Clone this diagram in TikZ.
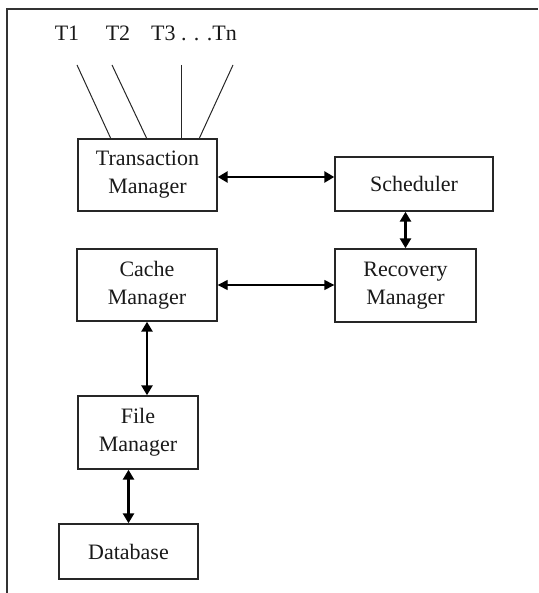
\documentclass[tikz,border=0pt]{standalone}
\usepackage{fontspec}
\setmainfont{Liberation Serif}
\usetikzlibrary{arrows.meta}
\begin{document}
\begin{tikzpicture}[x=1pt,y=-1pt,
  box/.style={draw=black!85,line width=1.4pt,align=center,inner sep=0pt,
    font=\fontsize{22}{28}\selectfont,text=black!90},
  lbl/.style={font=\fontsize{22}{28}\selectfont,text=black!90,inner sep=0pt},
  thick arrow/.style={line width=2.6pt,{Triangle[length=10pt,width=11pt]}-{Triangle[length=10pt,width=11pt]}},
  thin arrow/.style={line width=1.4pt,{Triangle[length=10pt,width=10pt]}-{Triangle[length=10pt,width=10pt]}},
  tline/.style={line width=1pt,draw=black!85}]
\useasboundingbox (0,0) rectangle (538,593);
% frame
\draw[line width=2pt,black!80] (7,593) -- (7,9) -- (538,9);
% boxes
\node[box,minimum width=139pt,minimum height=72pt] (tm) at (147.5,175) {Transaction\\Manager};
\node[box,minimum width=158pt,minimum height=54pt] (sch) at (414,184) {Scheduler};
\node[box,minimum width=141pt,minimum height=73pt] (rm) at (405.5,285.5) {Recovery\\Manager};
\node[box,minimum width=140pt,minimum height=72pt] (cm) at (147,285) {Cache\\Manager};
\node[box,minimum width=120pt,minimum height=73pt] (fm) at (138,432.5) {File\\Manager};
\node[box,minimum width=139pt,minimum height=55pt] (db) at (128.5,551.5) {Database};
% transaction labels
\node[lbl] (t1) at (67,33) {T1};
\node[lbl] (t2) at (118,33) {T2};
\node[lbl] (t3) at (194,33) {T3 . . .Tn};
\coordinate (a1) at (77,65);
\coordinate (a2) at (112,65);
\coordinate (a3) at (181,65);
\coordinate (a4) at (233,65);
\coordinate (b1) at (111,139);
\coordinate (b2) at (147,139);
\coordinate (b3) at (181,139);
\coordinate (b4) at (199,139);
\draw[tline] (a1) -- (b1);
\draw[tline] (a2) -- (b2);
\draw[tline] (a3) -- (b3);
\draw[tline] (a4) -- (b4);
% connectors
\draw[thick arrow] (tm.east |- 0,177) -- (sch.west |- 0,177);
\draw[thick arrow] (rm.north |- sch.south) -- (rm.north);
\draw[thin arrow] (cm.east) -- (cm.east -| rm.west);
\draw[thick arrow] (cm.south) -- (cm.south |- fm.north);
\draw[thick arrow] (db.north |- fm.south) -- (db.north);
\end{tikzpicture}
\end{document}
